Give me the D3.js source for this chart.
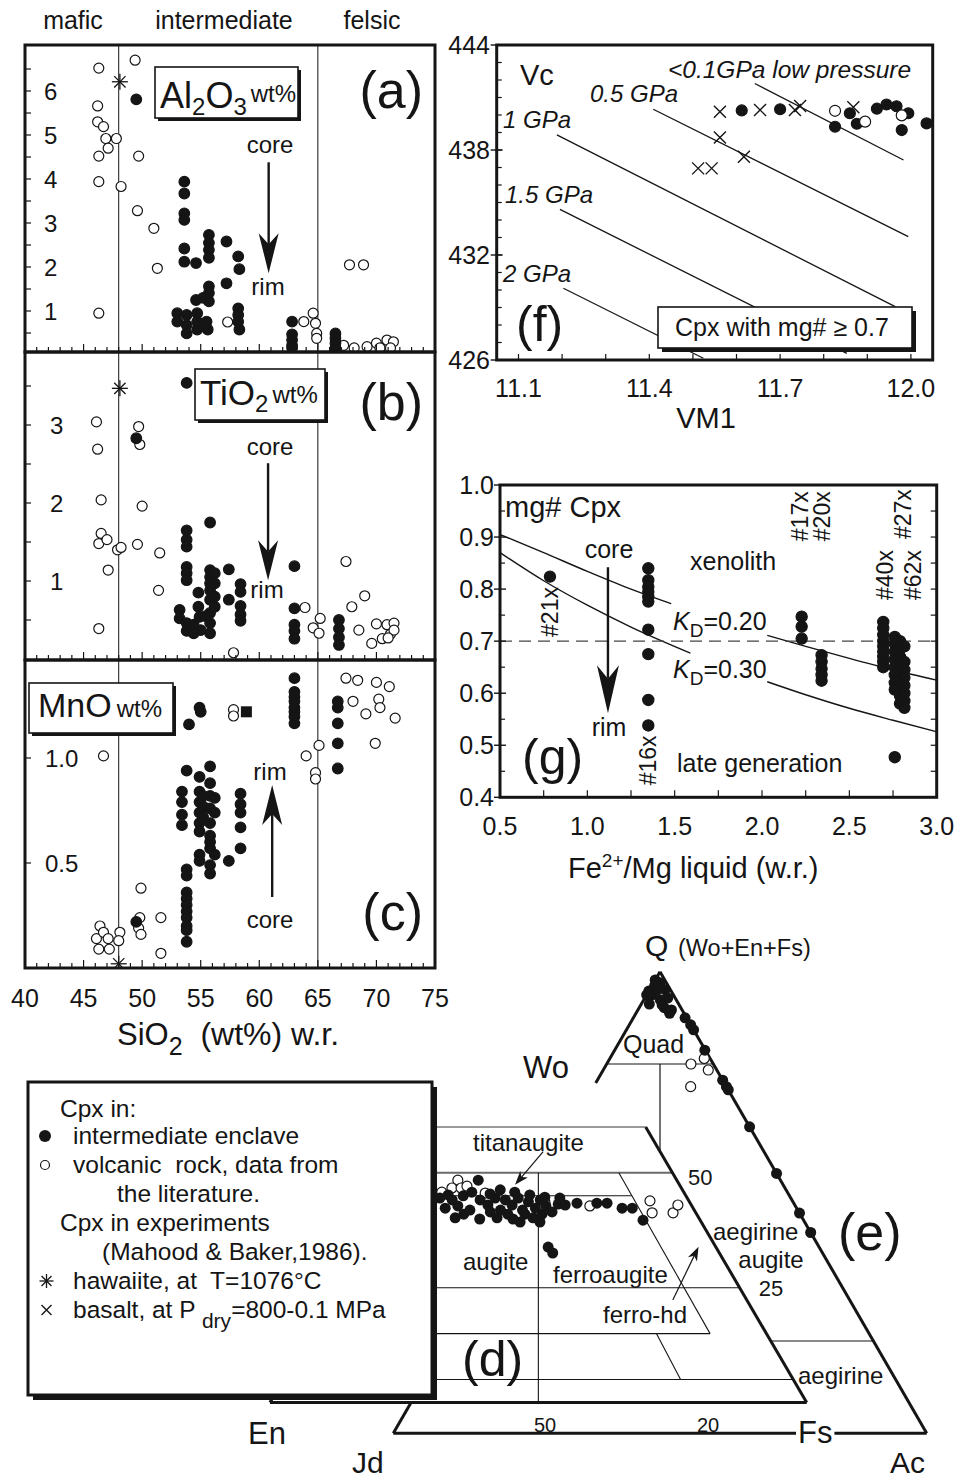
<!DOCTYPE html>
<html>
<head>
<meta charset="utf-8">
<script src="https://cdn.jsdelivr.net/npm/d3@7"></script>
<style>
  body { margin: 0; background: #fff; }
  svg { display: block; }
  text { font-family: "Liberation Sans", Arial, Helvetica, sans-serif; fill: #151515; white-space: pre; }
</style>
</head>
<body>
<svg id="fig" width="959" height="1482"></svg>
<script>
// ================= DATA =================
// --- SiO2 (wt%, whole rock) variation panels (a)-(c) ---
const siTicks = [40, 45, 50, 55, 60, 65, 70, 75];
const boundarySi = [48, 65];
const groupNames = ["mafic", "intermediate", "felsic"];

// (a) Al2O3 wt% in Cpx: [SiO2, Al2O3]
const aOpen = [[46.3,6.52],[49.4,6.70],[46.2,5.66],[46.2,5.30],[46.7,5.19],[46.9,4.92],[47.8,4.92],[47.1,4.70],[46.3,4.52],[49.7,4.52],[46.3,3.94],[48.2,3.83],[49.6,3.28],[51.0,2.88],[51.3,1.97],[46.3,0.95],[57.3,0.75],[67.7,2.05],[68.9,2.05],[63.8,0.76],[64.6,0.95],[64.8,0.72],[64.9,0.49],[64.9,0.38],[67.2,0.22],[68.1,0.16],[69.2,0.19],[70.0,0.27],[70.3,0.16],[70.9,0.34],[71.45,0.30],[71.2,0.16]];
const aFilled = [[49.5,5.81],[53.6,3.94],[53.6,3.67],[53.6,3.22],[53.6,3.07],[53.6,2.42],[53.6,2.12],[54.6,2.09],[55.7,2.73],[55.7,2.55],[55.7,2.39],[55.7,2.21],[55.7,1.56],[55.7,1.41],[55.7,1.22],[57.2,2.58],[58.2,2.24],[58.3,1.95],[57.2,1.63],[54.6,1.25],[55.2,1.30],[53.0,0.95],[53.0,0.76],[53.8,0.91],[53.8,0.68],[53.8,0.49],[54.7,0.95],[54.7,0.76],[54.7,0.58],[55.5,0.76],[55.6,0.58],[55.2,0.66],[58.2,1.06],[58.2,0.91],[58.2,0.76],[58.3,0.58],[62.8,0.76],[62.8,0.47],[62.8,0.34],[62.8,0.22],[62.8,0.16],[66.5,0.49],[66.5,0.38],[66.5,0.27],[66.5,0.16]];
const aStar = [[48.1,6.21]];
const aCoreRim = [[60.8,4.38],[60.8,1.86]];

// (b) TiO2 wt% in Cpx
const bOpen = [[46.1,3.04],[46.2,2.69],[49.7,2.98],[49.8,2.75],[46.5,2.04],[50.0,1.96],[46.5,1.61],[46.3,1.48],[47.0,1.53],[47.9,1.40],[48.2,1.43],[49.6,1.47],[51.5,1.36],[47.1,1.14],[51.4,0.88],[46.3,0.39],[57.8,0.08],[63.9,0.66],[64.6,0.40],[65.2,0.52],[65.1,0.33],[67.4,1.25],[67.9,0.67],[69.0,0.81],[68.5,0.37],[69.6,0.20],[70.0,0.45],[70.5,0.26],[70.9,0.44],[71.2,0.32],[71.5,0.46],[71.5,0.37],[71.0,0.27]];
const bFilled = [[53.8,3.54],[49.5,2.83],[55.8,1.75],[53.8,1.65],[53.8,1.53],[53.8,1.44],[53.8,1.18],[53.8,1.10],[53.8,1.01],[57.4,1.15],[55.8,1.14],[55.8,1.05],[55.8,0.97],[55.8,0.88],[55.8,0.76],[55.8,0.59],[55.8,0.46],[55.8,0.33],[54.8,0.85],[57.4,0.76],[58.4,0.96],[58.4,0.86],[58.4,0.68],[58.4,0.57],[58.4,0.49],[56.2,1.10],[56.2,0.97],[56.2,0.80],[56.2,0.67],[53.2,0.63],[53.2,0.52],[53.8,0.46],[53.8,0.36],[54.4,0.44],[54.8,0.67],[54.9,0.54],[55.0,0.37],[55.4,0.55],[54.4,0.33],[63.0,1.19],[63.0,0.65],[63.0,0.44],[63.0,0.36],[63.0,0.26],[66.8,0.50],[66.8,0.39],[66.8,0.28],[66.8,0.18]];
const bStar = [[48.1,3.47]];
const bCoreRim = [[60.75,2.51],[60.75,1.01]];

// (c) MnO wt% in Cpx
const cOpen = [[46.7,1.01],[46.4,0.20],[46.1,0.14],[46.7,0.17],[47.1,0.14],[46.3,0.09],[47.2,0.09],[48.1,0.17],[48.0,0.13],[49.9,0.38],[49.8,0.24],[49.7,0.19],[49.9,0.16],[51.6,0.24],[51.6,0.07],[57.8,1.23],[57.8,1.20],[64.0,1.01],[65.1,1.06],[64.8,0.93],[64.8,0.90],[67.4,1.38],[68.4,1.37],[70.0,1.36],[71.1,1.34],[68.0,1.27],[70.2,1.28],[70.3,1.24],[69.1,1.21],[71.6,1.19],[69.9,1.07]];
const cFilled = [[54.0,1.16],[54.9,1.24],[55.0,1.22],[63.0,1.38],[63.0,1.315],[63.0,1.29],[63.0,1.27],[63.0,1.24],[63.0,1.22],[63.0,1.197],[63.0,1.165],[66.7,1.27],[66.7,1.24],[66.7,1.165],[66.7,1.07],[66.7,0.95],[53.8,0.94],[53.4,0.84],[53.4,0.79],[53.4,0.73],[53.4,0.68],[54.9,0.91],[54.9,0.84],[54.9,0.79],[54.9,0.74],[54.9,0.69],[54.9,0.65],[54.9,0.54],[54.9,0.51],[55.2,0.82],[55.2,0.77],[55.2,0.72],[55.8,0.96],[55.8,0.88],[55.8,0.82],[55.8,0.76],[55.8,0.69],[55.8,0.63],[55.8,0.60],[55.8,0.57],[55.8,0.49],[55.8,0.45],[56.2,0.81],[56.2,0.74],[56.2,0.54],[57.4,0.51],[58.4,0.83],[58.4,0.78],[58.4,0.74],[58.4,0.67],[58.4,0.57],[53.8,0.47],[53.8,0.44],[53.8,0.36],[53.8,0.33],[53.8,0.30],[53.8,0.27],[53.8,0.24],[53.8,0.20],[53.8,0.18],[53.8,0.125],[49.5,0.22]];
const cSquare = [[58.9,1.22]];
const cStar = [[48.0,0.02]];
const cCoreRim = [[61.1,0.338],[61.1,0.871]];

// --- (f) Vc vs VM1 barometer ---
const fTicksX = [11.1, 11.4, 11.7, 12.0];
const fTicksY = [426, 432, 438, 444];
const isobarLabels = ["<0.1GPa low pressure", "0.5 GPa", "1 GPa", "1.5 GPa", "2 GPa"];
const isobarEnds = [
  [[11.642,441.8],[11.983,437.43]],
  [[11.409,440.33],[11.994,433.05]],
  [[11.188,438.86],[11.964,429.05]],
  [[11.195,434.61],[11.853,426.38]],
  [[11.203,430.10],[11.524,426.10]]
];
const fCross = [[11.562,440.19],[11.654,440.29],[11.734,440.29],[11.746,440.51],[11.562,438.72],[11.617,437.62],[11.512,436.95],[11.543,436.95],[11.868,440.44]];
const fFilled = [[11.612,440.26],[11.70,440.33],[11.826,439.33],[11.86,440.10],[11.876,439.50],[11.922,440.36],[11.944,440.60],[11.967,440.50],[11.994,440.10],[11.979,439.14],[12.036,439.52]];
const fOpen = [[11.826,440.24],[11.895,439.62],[11.979,439.98]];

// --- (g) mg# Cpx vs Fe2+/Mg liquid ---
const gTicksX = [0.5, 1.0, 1.5, 2.0, 2.5, 3.0];
const gTicksY = [0.4, 0.5, 0.6, 0.7, 0.8, 0.9, 1.0];
const kd20a = [[0.5,0.905],[0.75,0.87],[1.0,0.834],[1.25,0.80],[1.48,0.772]];
const kd20b = [[2.03,0.711],[2.25,0.69],[2.5,0.667],[2.75,0.645],[3.0,0.625]];
const kd30a = [[0.5,0.870],[0.75,0.816],[1.0,0.769],[1.25,0.727],[1.59,0.677]];
const kd30b = [[2.03,0.622],[2.25,0.597],[2.5,0.571],[2.75,0.548],[3.0,0.526]];
const mgLimit = 0.7;
const gPoints = [[0.786,0.824],
  [1.349,0.840],[1.349,0.817],[1.349,0.804],[1.349,0.795],[1.349,0.785],[1.349,0.776],[1.349,0.722],[1.349,0.675],[1.349,0.587],[1.349,0.538],
  [2.227,0.747],[2.227,0.728],[2.227,0.705],
  [2.341,0.673],[2.341,0.660],[2.341,0.647],[2.341,0.635],[2.341,0.624],
  [2.694,0.737],[2.694,0.725],[2.694,0.712],[2.694,0.700],[2.694,0.690],[2.694,0.680],[2.694,0.670],[2.694,0.660],[2.694,0.650],
  [2.76,0.708],[2.76,0.695],[2.76,0.680],[2.76,0.665],[2.76,0.650],[2.76,0.635],[2.76,0.620],[2.76,0.607],
  [2.79,0.700],[2.79,0.685],[2.79,0.670],[2.79,0.655],[2.79,0.640],[2.79,0.625],[2.79,0.610],[2.79,0.595],[2.79,0.580],
  [2.815,0.690],[2.815,0.660],[2.815,0.645],[2.815,0.630],[2.815,0.615],[2.815,0.600],[2.815,0.585],[2.815,0.572],
  [2.76,0.477]];
const gSampleLabels = [["#21x",0.786,0.756],["#16x",1.347,0.471],["#17x",2.217,0.940],["#20x",2.343,0.940],["#40x",2.704,0.827],["#27x",2.807,0.944],["#62x",2.864,0.827]];
const gCoreRim = [[1.118,0.842],[1.118,0.5615]];

// --- (e) Q-Jd-Ac ternary: [Q, Ac] (Jd = 100 - Q - Ac) ---
const eFilled = [[98.2,0],[97.6,1.2],[96.1,2.9],[95.0,1.0],[94.3,4.3],[95.0,0],[91.7,6.3],[91.0,6.3],[93.9,3.1],[92.2,4.7],[95.8,0],[92.8,4.0],[96.0,1.4],[97.0,0.5],[93.0,1.5],[90.0,9.7],[88.5,11.5],[87.4,12.6],[83.0,16.9],[76.5,23.5],[75.1,24.9],[74.4,25.6],[66.4,33.6],[56.3,43.7],[47.7,52.3],[43.5,56.5]];
const eOpen = [[81.2,17.7],[78.7,19.7],[80.0,15.8],[75.1,18.2]];
const eQuadQ = 80, eAegQ = 20;

// --- (d) Wo-En-Fs quadrilateral: [Wo, Fs] (En = 100 - Wo - Fs) ---
const dTopWo = 60;
const dFilled = [[44.5,9.4],[44.1,11.9],[45.0,13.5],[45.8,14.7],[48.4,14.6],[44.1,17.1],[43.0,19.1],[44.5,19.7],[41.9,22.0],[44.1,21.8],[43.0,23.6],[44.5,24.0],[41.9,26.1],[43.7,26.3],[42.3,28.3],[44.1,28.3],[42.8,30.0],[41.5,31.8],[43.2,32.1],[41.0,15.6],[39.95,19.1],[40.2,22.2],[39.95,25.3],[40.2,28.9],[42.3,11.5],[42.8,13.6],[41.9,16.3],[41.5,20.3],[41.0,23.8],[41.0,27.0],[41.0,30.2],[45.2,10.6],[45.4,18.3],[46.3,19.75],[45.8,22.7],[45.2,25.8],[44.7,28.85],[44.5,31.75],[43.0,33.5],[43.4,35.5],[43.4,39.2],[43.4,41.1],[42.3,44.45],[42.3,46.35],[39.7,49.65],[33.85,34.9],[32.55,36.4],[40.2,14.4],[39.3,26.95],[39.3,30.65]];
const dOpen = [[48.4,10.8],[46.7,10.55],[46.7,12.25],[47.1,13.15],[45.6,17.3],[43.65,29.4],[42.8,38.2],[43.9,48.85],[41.3,50.55],[41.3,54.45],[43.0,54.5],[45.8,9.1]];
const dWoLines = [[50,0,50],[45,0,44.9],[25,0,75],[15,0,74.5],[5,0,95]];   // [Wo, Fs from, Fs to]
const dDiagonals = [[[50,25],[0,50]],[[50,40],[15,74.5]],[[15,64.5],[5,74]]];
const dArrows = [[[54.6,23.6],[47.4,21.95]],[[22.3,63.9],[33.9,62.9]]];

// ================= DRAWING =================
const ink = "#151515";
const svg = d3.select("#fig");

function dots(g, data, sx, sy, filled, r) {
  g.selectAll(null).data(data).join("circle")
    .attr("cx", d => sx(d[0])).attr("cy", d => sy(d[1])).attr("r", r)
    .attr("fill", filled ? ink : "#fff").attr("stroke", ink).attr("stroke-width", 1.2);
}
function stars(g, data, sx, sy, s) {
  data.forEach(d => {
    const cx = sx(d[0]), cy = sy(d[1]);
    [0, 45, 90, 135].forEach(a => {
      const r = a * Math.PI / 180, dx = Math.cos(r) * s, dy = Math.sin(r) * s;
      g.append("line").attr("x1", cx - dx).attr("y1", cy - dy).attr("x2", cx + dx).attr("y2", cy + dy)
        .attr("stroke", ink).attr("stroke-width", 1.3);
    });
  });
}
function crosses(g, data, sx, sy, s) {
  data.forEach(d => {
    const cx = sx(d[0]), cy = sy(d[1]);
    g.append("path").attr("d", `M${cx-s},${cy-s}L${cx+s},${cy+s}M${cx-s},${cy+s}L${cx+s},${cy-s}`)
      .attr("stroke", ink).attr("stroke-width", 1.4).attr("fill", "none");
  });
}
function arrow(g, x1, y1, x2, y2, len, half, w) {
  const dx = x2 - x1, dy = y2 - y1, L = Math.hypot(dx, dy), ux = dx / L, uy = dy / L, px = -uy, py = ux;
  const bx = x2 - ux * len, by = y2 - uy * len, nx = x2 - ux * len * 0.72, ny = y2 - uy * len * 0.72;
  g.append("line").attr("x1", x1).attr("y1", y1).attr("x2", nx).attr("y2", ny).attr("stroke", ink).attr("stroke-width", w);
  g.append("path").attr("d", `M${x2},${y2}L${bx + px * half},${by + py * half}L${nx},${ny}L${bx - px * half},${by - py * half}Z`).attr("fill", ink);
}
function text(g, x, y, s, size, anchor) {
  return g.append("text").attr("x", x).attr("y", y).attr("font-size", size).attr("text-anchor", anchor || "start").text(s);
}
function shadowBox(g, x, y, w, h, off, sw) {
  g.append("rect").attr("x", x + off).attr("y", y + off).attr("width", w).attr("height", h).attr("fill", ink);
  g.append("rect").attr("x", x).attr("y", y).attr("width", w).attr("height", h).attr("fill", "#fff").attr("stroke", ink).attr("stroke-width", sw);
}

// ---------- (a)-(c) ----------
const xSi = d3.scaleLinear().domain([40, 75]).range([25, 435]);
const panels = [
  { key: "a", top: 45, bot: 352, y: d3.scaleLinear().domain([0, 7]).range([355, 47]), tick: d3.range(0.5, 7, 0.5), labels: [1, 2, 3, 4, 5, 6], fmt: d3.format("d"), labX: 44,
    open: aOpen, filled: aFilled, star: aStar, coreRim: aCoreRim },
  { key: "b", top: 352, bot: 660, y: d3.scaleLinear().domain([0, 3.5]).range([659, 386]), tick: d3.range(0.5, 4, 0.5), labels: [1, 2, 3], fmt: d3.format("d"), labX: 50,
    open: bOpen, filled: bFilled, star: bStar, coreRim: bCoreRim },
  { key: "c", top: 660, bot: 968, y: d3.scaleLinear().domain([0, 1]).range([968, 758]), tick: [0.5, 1.0], labels: [0.5, 1.0], fmt: d3.format(".1f"), labX: 45,
    open: cOpen, filled: cFilled, star: cStar, coreRim: cCoreRim }
];

groupNames.forEach((n, i) => text(svg, [73, 224, 372][i], 29, n, 25, "middle"));

panels.forEach(p => {
  const g = svg.append("g");
  const clipId = "clip-" + p.key;
  svg.append("clipPath").attr("id", clipId).append("rect")
    .attr("x", xSi(40)).attr("y", p.top).attr("width", xSi(75) - xSi(40)).attr("height", p.bot - p.top);
  const inner = g.append("g").attr("clip-path", `url(#${clipId})`);
  boundarySi.forEach(v => inner.append("line").attr("x1", xSi(v)).attr("x2", xSi(v)).attr("y1", p.top).attr("y2", p.bot)
    .attr("stroke", ink).attr("stroke-width", 1));
  dots(inner, p.open, xSi, p.y, false, 5);
  dots(inner, p.filled, xSi, p.y, true, 5.3);
  stars(inner, p.star, xSi, p.y, 8);
  // ticks
  d3.range(41, 75).forEach(v => {
    const len = v % 5 === 0 ? 8 : 5;
    g.append("line").attr("x1", xSi(v)).attr("x2", xSi(v)).attr("y1", p.bot).attr("y2", p.bot - len).attr("stroke", ink).attr("stroke-width", 1.2);
  });
  p.tick.forEach(v => g.append("line").attr("x1", xSi(40)).attr("x2", xSi(40) + 6).attr("y1", p.y(v)).attr("y2", p.y(v)).attr("stroke", ink).attr("stroke-width", 1.2));
  p.labels.forEach(v => text(g, p.labX, p.y(v), p.fmt(v), 24).attr("dy", "0.36em"));
  // core -> rim arrow
  const [c0, c1] = p.coreRim;
  arrow(g, xSi(c0[0]), p.y(c0[1]), xSi(c1[0]), p.y(c1[1]), 40, 10, 2.4);
  g.append("rect").attr("x", xSi(40)).attr("y", p.top).attr("width", xSi(75) - xSi(40)).attr("height", p.bot - p.top)
    .attr("fill", "none").attr("stroke", ink).attr("stroke-width", 3);
  p.g = g;
});
// filled square in (c)
panels[2].g.selectAll(null).data(cSquare).join("rect")
  .attr("x", d => xSi(d[0]) - 5.5).attr("y", d => panels[2].y(d[1]) - 5.5).attr("width", 11).attr("height", 11).attr("fill", ink);

// panel annotations
{
  const ga = panels[0].g;
  shadowBox(ga, 155, 67, 143, 51, 3, 1.6);
  const t = ga.append("text").attr("x", 160).attr("y", 108).attr("font-size", 36);
  t.append("tspan").text("Al");
  t.append("tspan").attr("font-size", 24).attr("dy", 7).text("2");
  t.append("tspan").attr("dy", -7).text("O");
  t.append("tspan").attr("font-size", 24).attr("dy", 7).text("3");
  t.append("tspan").attr("font-size", 24).attr("dx", 4).attr("dy", -13).text("wt%");
  text(ga, 423, 108, "(a)", 52, "end");
  text(ga, 270, 153, "core", 24, "middle");
  text(ga, 268, 295, "rim", 24, "middle");

  const gb = panels[1].g;
  shadowBox(gb, 195, 369, 130, 51, 3, 1.6);
  const tb = gb.append("text").attr("x", 200).attr("y", 405).attr("font-size", 35);
  tb.append("tspan").text("TiO");
  tb.append("tspan").attr("font-size", 24).attr("dy", 7).text("2");
  tb.append("tspan").attr("font-size", 24).attr("dx", 4).attr("dy", -9).text("wt%");
  text(gb, 423, 420, "(b)", 52, "end");
  text(gb, 270, 455, "core", 24, "middle");
  text(gb, 267, 598, "rim", 24, "middle");

  const gc = panels[2].g;
  shadowBox(gc, 29, 683, 144, 50, 3, 1.6);
  const tc = gc.append("text").attr("x", 38).attr("y", 717).attr("font-size", 34);
  tc.append("tspan").text("MnO");
  tc.append("tspan").attr("font-size", 24).attr("dx", 5).text("wt%");
  text(gc, 423, 930, "(c)", 52, "end");
  text(gc, 270, 780, "rim", 24, "middle");
  text(gc, 270, 928, "core", 24, "middle");
}
siTicks.forEach(v => text(svg, xSi(v), 1007, String(v), 25, "middle"));
{
  const t = svg.append("text").attr("x", 117).attr("y", 1045).attr("font-size", 31);
  t.append("tspan").text("SiO");
  t.append("tspan").attr("font-size", 25).attr("dy", 10).text("2");
  t.append("tspan").attr("dy", -10).attr("font-size", 32).text("  (wt%) w.r.");
}

// ---------- (f) ----------
const xF = d3.scaleLinear().domain([11.05, 12.05]).range([496.7, 932.7]);
const yF = d3.scaleLinear().domain([426, 444]).range([360, 45]);
{
  const g = svg.append("g");
  svg.append("clipPath").attr("id", "clip-f").append("rect")
    .attr("x", xF(11.05)).attr("y", yF(444)).attr("width", xF(12.05) - xF(11.05)).attr("height", yF(426) - yF(444));
  const inner = g.append("g").attr("clip-path", "url(#clip-f)");
  isobarEnds.forEach(e => inner.append("line")
    .attr("x1", xF(e[0][0])).attr("y1", yF(e[0][1])).attr("x2", xF(e[1][0])).attr("y2", yF(e[1][1]))
    .attr("stroke", ink).attr("stroke-width", 1.3));
  crosses(inner, fCross, xF, yF, 6);
  dots(inner, fFilled, xF, yF, true, 5.5);
  dots(inner, fOpen, xF, yF, false, 5.5);
  // ticks
  d3.range(427, 444).forEach(v => g.append("line").attr("x1", xF(11.05)).attr("x2", xF(11.05) + 5).attr("y1", yF(v)).attr("y2", yF(v)).attr("stroke", ink).attr("stroke-width", 1.2));
  fTicksY.forEach(v => g.append("line").attr("x1", xF(11.05) - 6).attr("x2", xF(11.05) + 6).attr("y1", yF(v)).attr("y2", yF(v)).attr("stroke", ink).attr("stroke-width", 1.4));
  d3.range(11.1, 12.04, 0.1).forEach(v => g.append("line").attr("x1", xF(v)).attr("x2", xF(v)).attr("y1", yF(426)).attr("y2", yF(426) - 6).attr("stroke", ink).attr("stroke-width", 1.2));
  fTicksY.forEach(v => text(g, 490, yF(v), String(v), 25, "end").attr("dy", "0.36em"));
  fTicksX.forEach(v => text(g, xF(v), 397, d3.format(".1f")(v), 25, "middle"));
  text(g, 706, 428, "VM1", 29, "middle");
  // legend box
  shadowBox(g, 658, 307, 254, 41, 4, 1.6);
  text(g, 675, 336, "Cpx with mg# \u2265 0.7", 25);
  g.append("rect").attr("x", xF(11.05)).attr("y", yF(444)).attr("width", xF(12.05) - xF(11.05)).attr("height", yF(426) - yF(444))
    .attr("fill", "none").attr("stroke", ink).attr("stroke-width", 3);
  text(g, 520, 85, "Vc", 29);
  const lp = [[668, 78], [590, 102], [503, 128], [505, 203], [503, 282]];
  isobarLabels.forEach((s, i) => text(g, lp[i][0], lp[i][1], s, i === 0 ? 24.5 : 24).attr("font-style", "italic"));
  text(g, 516, 341, "(f)", 50);
}

// ---------- (g) ----------
const xG = d3.scaleLinear().domain([0.5, 3.0]).range([500, 936.7]);
const yG = d3.scaleLinear().domain([0.4, 1.0]).range([797.3, 485]);
{
  const g = svg.append("g");
  const line = d3.line().x(d => xG(d[0])).y(d => yG(d[1])).curve(d3.curveMonotoneX);
  [kd20a, kd20b, kd30a, kd30b].forEach(c => g.append("path").attr("d", line(c)).attr("fill", "none").attr("stroke", ink).attr("stroke-width", 1.4));
  g.append("line").attr("x1", xG(0.5)).attr("x2", xG(3.0)).attr("y1", yG(mgLimit)).attr("y2", yG(mgLimit))
    .attr("stroke", "#444").attr("stroke-width", 1.1).attr("stroke-dasharray", "12,7");
  dots(g, gPoints, xG, yG, true, 5.6);
  // ticks
  d3.range(0.45, 1.0, 0.1).forEach(v => g.append("line").attr("x1", xG(0.5)).attr("x2", xG(0.5) + 5).attr("y1", yG(v)).attr("y2", yG(v)).attr("stroke", ink).attr("stroke-width", 1.2));
  gTicksY.forEach(v => g.append("line").attr("x1", xG(0.5) - 6).attr("x2", xG(0.5) + 6).attr("y1", yG(v)).attr("y2", yG(v)).attr("stroke", ink).attr("stroke-width", 1.4));
  d3.range(0.45, 1.0, 0.05).forEach(v => g.append("line").attr("x1", xG(3.0)).attr("x2", xG(3.0) - 6).attr("y1", yG(v)).attr("y2", yG(v)).attr("stroke", ink).attr("stroke-width", 1.2));
  d3.range(0.75, 3.0, 0.25).forEach(v => g.append("line").attr("x1", xG(v)).attr("x2", xG(v)).attr("y1", yG(0.4)).attr("y2", yG(0.4) - 7).attr("stroke", ink).attr("stroke-width", 1.2));
  g.append("rect").attr("x", xG(0.5)).attr("y", yG(1.0)).attr("width", xG(3.0) - xG(0.5)).attr("height", yG(0.4) - yG(1.0))
    .attr("fill", "none").attr("stroke", ink).attr("stroke-width", 3);
  gTicksY.forEach(v => text(g, 494, yG(v), d3.format(".1f")(v), 25, "end").attr("dy", "0.36em"));
  gTicksX.forEach(v => text(g, xG(v), 835, d3.format(".1f")(v), 25, "middle"));
  const t = g.append("text").attr("x", 568).attr("y", 878).attr("font-size", 29);
  t.append("tspan").text("Fe");
  t.append("tspan").attr("font-size", 19).attr("dy", -11).text("2+");
  t.append("tspan").attr("dy", 11).text("/Mg liquid (w.r.)");
  // annotations
  const [c0, c1] = gCoreRim;
  arrow(g, xG(c0[0]), yG(c0[1]), xG(c1[0]), yG(c1[1]), 48, 11, 2.4);
  text(g, 505, 517, "mg# Cpx", 29);
  text(g, 609, 558, "core", 25, "middle");
  text(g, 609, 736, "rim", 25, "middle");
  text(g, 522, 774, "(g)", 50);
  text(g, 690, 570, "xenolith", 25);
  text(g, 677, 772, "late generation", 25);
  [["0.20", 630], ["0.30", 678]].forEach(([v, y]) => {
    const k = g.append("text").attr("x", 673).attr("y", y).attr("font-size", 25);
    k.append("tspan").attr("font-style", "italic").text("K");
    k.append("tspan").attr("font-size", 19).attr("dy", 7).text("D");
    k.append("tspan").attr("dy", -7).text("=" + v);
  });
  gSampleLabels.forEach(([s, fx, fy]) => g.append("text")
    .attr("transform", `translate(${xG(fx)},${yG(fy)}) rotate(-90)`)
    .attr("text-anchor", "middle").attr("dy", "0.36em").attr("font-size", 23).text(s));
}

// ---------- (e) Q-Jd-Ac and (d) Wo-En-Fs ----------
const eX = d3.scaleLinear().domain([0, 100]).range([393.3, 926.7]);
const eY = d3.scaleLinear().domain([0, 100]).range([1433.3, 971.7]);
const pe = (q, ac) => [eX(ac + q / 2), eY(q)];
const dX = d3.scaleLinear().domain([0, 100]).range([270, 806.7]);
const dY = d3.scaleLinear().domain([0, 100]).range([1402.5, 943.2]);
const pd = (wo, fs) => [dX(fs + wo / 2), dY(wo)];
{
  const g = svg.append("g");
  const seg = (a, b, w, c) => g.append("line").attr("x1", a[0]).attr("y1", a[1]).attr("x2", b[0]).attr("y2", b[1])
    .attr("stroke", c || ink).attr("stroke-width", w);
  // (e) frame and fields
  seg(pe(100, 0), pe(0, 100), 3);
  seg(pe(0, 0), pe(0, 100), 3);
  seg(pe(100, 0), pe(75.9, 0), 3);
  seg(pe(66, 0), pe(0, 0), 3);
  seg(pe(eQuadQ, 0), pe(eQuadQ, 100 - eQuadQ), 1.2);
  seg(pe(eQuadQ, (100 - eQuadQ) / 2), pe(60, 20), 1.2);
  seg(pe(eAegQ, 0), pe(eAegQ, 100 - eAegQ), 1.2);
  const eDots = g.append("g");
  eOpen.forEach(d => { const [x, y] = pe(d[0], d[1]); eDots.append("circle").attr("cx", x).attr("cy", y).attr("r", 5).attr("fill", "#fff").attr("stroke", ink).attr("stroke-width", 1.2); });
  eFilled.forEach(d => { const [x, y] = pe(d[0], d[1]); eDots.append("circle").attr("cx", x).attr("cy", y).attr("r", 5.5).attr("fill", ink); });

  // (d) quadrilateral (white, drawn over e)
  const quad = [pd(0, 0), pd(0, 100), pd(dTopWo, 100 - dTopWo), pd(dTopWo, 0)];
  g.append("path").attr("d", "M" + quad.join("L") + "Z").attr("fill", "#fff").attr("stroke", "none");
  seg(pd(dTopWo, 0), pd(dTopWo, 100 - dTopWo), 2, "#9a9a9a");
  dWoLines.forEach(([wo, f0, f1], i) => seg(pd(wo, f0), pd(wo, f1), i === 0 ? 2 : 1.1, i === 0 ? "#6a6a6a" : ink));
  dDiagonals.forEach(([a, b]) => seg(pd(a[0], a[1]), pd(b[0], b[1]), 1.1));
  seg(pd(0, 0), pd(0, 100), 3);
  seg(pd(0, 100), pd(dTopWo, 100 - dTopWo), 3);
  seg(pd(0, 0), pd(dTopWo, 0), 3);
  dOpen.forEach(d => { const [x, y] = pd(d[0], d[1]); g.append("circle").attr("cx", x).attr("cy", y).attr("r", 5).attr("fill", "#fff").attr("stroke", ink).attr("stroke-width", 1.2); });
  dFilled.forEach(d => { const [x, y] = pd(d[0], d[1]); g.append("circle").attr("cx", x).attr("cy", y).attr("r", 5.5).attr("fill", ink); });
  dArrows.forEach(([a, b]) => { const p0 = pd(a[0], a[1]), p1 = pd(b[0], b[1]); arrow(g, p0[0], p0[1], p1[0], p1[1], 14, 5, 1.2); });

  // labels
  text(g, 645, 956, "Q", 30);
  text(g, 678, 956, "(Wo+En+Fs)", 23.5);
  text(g, 623, 1053, "Quad", 25);
  text(g, 523, 1078, "Wo", 31);
  text(g, 688, 1185, "50", 22);
  text(g, 473, 1151, "titanaugite", 24);
  text(g, 463, 1270, "augite", 24);
  text(g, 553, 1283, "ferroaugite", 24);
  text(g, 603, 1323, "ferro-hd", 24);
  text(g, 462, 1376, "(d)", 50);
  text(g, 713, 1240, "aegirine", 24);
  text(g, 771, 1268, "augite", 24, "middle");
  text(g, 771, 1296, "25", 22, "middle");
  text(g, 798, 1384, "aegirine", 24);
  text(g, 838, 1250, "(e)", 52);
  text(g, 545, 1432, "50", 20, "middle");
  text(g, 708, 1432, "20", 20, "middle");
  const fs = text(g, 798, 1443, "Fs", 31);
  const bb = fs.node().getBBox();
  g.insert("rect", () => fs.node()).attr("x", bb.x - 2).attr("y", bb.y).attr("width", bb.width + 4).attr("height", bb.height).attr("fill", "#fff");
  text(g, 248, 1444, "En", 31);
  text(g, 352, 1473, "Jd", 30);
  text(g, 890, 1473, "Ac", 30);
}

// ---------- legend ----------
{
  const g = svg.append("g");
  shadowBox(g, 28, 1082, 404, 313, 5, 3);
  const rows = [
    [null, "Cpx in:", 60, 1117],
    ["filled", "intermediate enclave", 73, 1144],
    ["open", "volcanic  rock, data from", 73, 1173],
    [null, "the literature.", 117, 1202],
    [null, "Cpx in experiments", 60, 1231],
    [null, "(Mahood & Baker,1986).", 102, 1260],
    ["star", "hawaiite, at  T=1076\u00B0C", 73, 1289],
    ["cross", "basalt, at P ", 73, 1318]
  ];
  rows.forEach(([sym, s, x, y]) => {
    const t = text(g, x, y, s, 24.5);
    const cy = y - 8;
    if (sym === "filled") g.append("circle").attr("cx", 45).attr("cy", cy).attr("r", 6).attr("fill", ink);
    if (sym === "open") g.append("circle").attr("cx", 45).attr("cy", cy).attr("r", 4.5).attr("fill", "#fff").attr("stroke", ink).attr("stroke-width", 1.2);
    if (sym === "star") stars(g, [[46.5, cy]], v => v, v => v, 7);
    if (sym === "cross") crosses(g, [[46.5, cy]], v => v, v => v, 5);
    if (sym === "cross") {
      t.append("tspan").attr("font-size", 21).attr("dy", 10).text("dry");
      t.append("tspan").attr("dy", -10).text("=800-0.1 MPa");
    }
  });
}
</script>
</body>
</html>
